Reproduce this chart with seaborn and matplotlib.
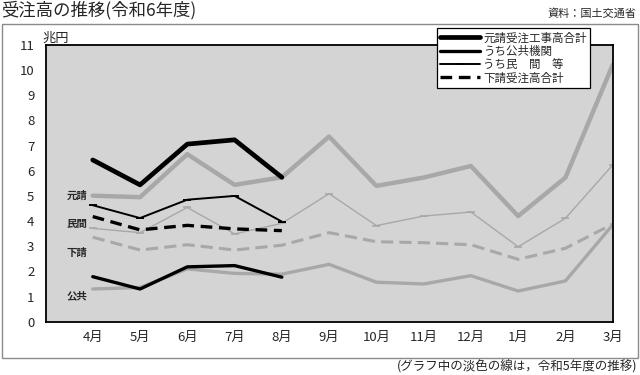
import numpy as np
import pandas as pd
import matplotlib
matplotlib.use("Agg")
import matplotlib.pyplot as plt
from matplotlib.patches import Rectangle
import seaborn as sns

# ---- data ----
months = ["4月", "5月", "6月", "7月", "8月", "9月", "10月", "11月", "12月", "1月", "2月", "3月"]

# 令和6年度 (current, Apr-Aug)
gen_cur = [6.43, 5.44, 7.06, 7.23, 5.74]
kou_cur = [1.79, 1.30, 2.18, 2.23, 1.77]
min_cur = [4.63, 4.12, 4.85, 5.00, 3.98]
shi_cur = [4.18, 3.65, 3.83, 3.69, 3.62]

# 令和5年度 (previous year, pale lines)
gen_prev = [5.01, 4.95, 6.66, 5.44, 5.74, 7.36, 5.40, 5.73, 6.19, 4.20, 5.73, 10.21]
kou_prev = [1.30, 1.36, 2.10, 1.92, 1.89, 2.28, 1.57, 1.50, 1.83, 1.22, 1.62, 3.85]
min_prev = [3.71, 3.54, 4.54, 3.49, 3.91, 5.09, 3.82, 4.20, 4.36, 2.98, 4.11, 6.23]
shi_prev = [3.36, 2.85, 3.06, 2.85, 3.04, 3.54, 3.18, 3.14, 3.06, 2.48, 2.92, 3.88]

legend_labels = ["元請受注工事高合計", "うち公共機関", "うち民\u3000間\u3000等", "下請受注高合計"]
inline_labels = ["元請", "民間", "下請", "公共"]
inline_values = [5.0, 3.87, 2.74, 1.03]
yticks = list(range(0, 12))

# ---- style ----
sns.set_style("white")
plt.rcParams["font.family"] = ["Noto Sans CJK JP", "DejaVu Sans"]

fig = plt.figure(figsize=(6.4, 3.75), dpi=100)
ax = fig.add_axes([45.5 / 640, 1 - 321.7 / 375, (612.7 - 45.5) / 640, (321.7 - 45) / 375])
ax.set_facecolor("#d4d4d4")

xall = np.arange(len(months))
xcur = xall[:len(gen_cur)]
pale = "#a8a8a8"

# previous-year pale lines
sns.lineplot(x=xall, y=gen_prev, ax=ax, color=pale, linewidth=3.2, label="_nolegend_")
sns.lineplot(x=xall, y=kou_prev, ax=ax, color=pale, linewidth=2.4, label="_nolegend_")
sns.lineplot(x=xall, y=min_prev, ax=ax, color=pale, linewidth=1.0, marker="_",
             markersize=6, markeredgewidth=1.2, markeredgecolor=pale, label="_nolegend_")
sns.lineplot(x=xall, y=shi_prev, ax=ax, color=pale, linewidth=2.2, label="_nolegend_")
ax.lines[-1].set_dashes([4, 2])

# current-year black lines
sns.lineplot(x=xcur, y=gen_cur, ax=ax, color="black", linewidth=3.4, label=legend_labels[0])
sns.lineplot(x=xcur, y=kou_cur, ax=ax, color="black", linewidth=2.4, label=legend_labels[1])
sns.lineplot(x=xcur, y=min_cur, ax=ax, color="black", linewidth=1.4, marker="_",
             markersize=6, markeredgewidth=1.4, markeredgecolor="black", label=legend_labels[2])
sns.lineplot(x=xcur, y=shi_cur, ax=ax, color="black", linewidth=2.4, label=legend_labels[3])
ax.lines[-1].set_dashes([3.5, 2])

ax.set_xlim(-1, 11)
ax.set_ylim(0, 11)
ax.set_xticks(xall)
ax.set_xticklabels(months, fontsize=9.5)
ax.set_yticks(yticks)
ax.set_yticklabels([str(v) for v in yticks], fontsize=9.5)
ax.tick_params(axis="both", direction="in", length=3, color="#808080", width=0.8)
ax.tick_params(axis="x", pad=7)
ax.tick_params(axis="y", pad=8)
ax.set_xlabel("")
ax.set_ylabel("")
for s in ax.spines.values():
    s.set_visible(True)
    s.set_color("black")
    s.set_linewidth(1.3)

# inline labels
for lab, v in zip(inline_labels, inline_values):
    ax.text(-0.34, v, lab, fontsize=7.5, ha="center", va="center", fontweight="bold")

ax.text(-0.78, 11.0, "兆円", fontsize=9.5, ha="center", va="bottom")

# legend
leg = ax.legend(loc="upper left", bbox_to_anchor=(437 / 640, 1 - 28 / 375),
                bbox_transform=fig.transFigure, fontsize=8.3, frameon=True,
                fancybox=False, edgecolor="black", framealpha=1,
                handlelength=3.4, handletextpad=0.3, labelspacing=0.03,
                borderpad=0.3, borderaxespad=0)
leg.get_frame().set_linewidth(0.9)
leg.set_zorder(20)

# outer frame
fig.patches.append(Rectangle((2 / 640, 1 - 358 / 375), 636 / 640, 334 / 375,
                             transform=fig.transFigure, fill=False,
                             edgecolor="#8a8a8a", linewidth=1.0, zorder=0))

fig.text(1 / 640, 1 - 10 / 375, "受注高の推移(令和6年度)", fontsize=12.5, ha="left", va="center")
fig.text(636 / 640, 1 - 14 / 375, "資料：国土交通省", fontsize=8, ha="right", va="center")
fig.text(637 / 640, 1 - 367 / 375, "(グラフ中の淡色の線は，令和5年度の推移)", fontsize=9,
         ha="right", va="center")

fig.savefig("out.png", dpi=100)
